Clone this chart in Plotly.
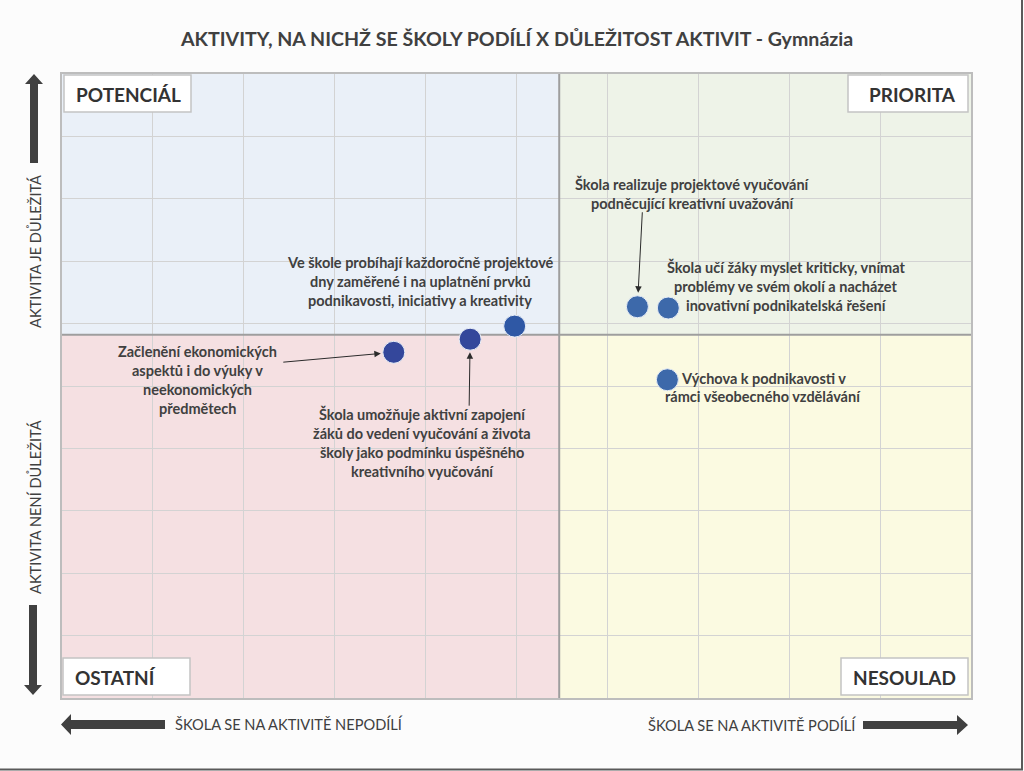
import plotly.graph_objects as go

# ---------------- data ----------------
labels = [
    "Začlenění ekonomických aspektů i do výuky v neekonomických předmětech",
    "Škola umožňuje aktivní zapojení žáků do vedení vyučování a života školy",
    "Ve škole probíhají každoročně projektové dny",
    "Škola realizuje projektové vyučování podněcující kreativní uvažování",
    "Škola učí žáky myslet kriticky",
    "Výchova k podnikavosti v rámci všeobecného vzdělávání",
]
x_vals = [3.65, 4.49, 4.98, 6.33, 6.67, 6.66]
y_vals = [5.54, 5.75, 5.96, 6.27, 6.25, 5.10]
point_colors = ["#34479B", "#34479B", "#2F58A5", "#3D69AA", "#3D69AA", "#3D69AA"]
x_mid = 5.47
y_mid = 5.82
x_range = [0, 10]
y_range = [0, 10]

title_text = "AKTIVITY, NA NICHŽ SE ŠKOLY PODÍLÍ X DŮLEŽITOST AKTIVIT - Gymnázia"
quadrant_names = ["POTENCIÁL", "PRIORITA", "OSTATNÍ", "NESOULAD"]
axis_texts = ["AKTIVITA JE DŮLEŽITÁ", "AKTIVITA NENÍ DŮLEŽITÁ",
              "ŠKOLA SE NA AKTIVITĚ NEPODÍLÍ", "ŠKOLA SE NA AKTIVITĚ PODÍLÍ"]

# ---------------- layout helpers ----------------
W, H = 1024, 771
L, R, T, B = 62, 971, 74, 698
def PX(px):
    return (px - L) / (R - L)
def PY(py):
    return (B - py) / (B - T)

FONT = "Lato"
TXT = "#404040"

fig = go.Figure()

fig.add_trace(go.Scatter(
    x=x_vals, y=y_vals, mode="markers",
    marker=dict(size=22, color=point_colors, line=dict(color="#E8EEF7", width=1)),
    text=labels, hoverinfo="text", showlegend=False,
))

shapes = []
# quadrant backgrounds
quad_fills = [
    (x_range[0], x_mid, y_mid, y_range[1], "#EAF0F8"),
    (x_mid, x_range[1], y_mid, y_range[1], "#EEF3E8"),
    (x_range[0], x_mid, y_range[0], y_mid, "#F5E0E2"),
    (x_mid, x_range[1], y_range[0], y_mid, "#FBFAE1"),
]
for x0, x1, y0, y1, c in quad_fills:
    shapes.append(dict(type="rect", xref="x", yref="y", x0=x0, x1=x1, y0=y0, y1=y1,
                       fillcolor=c, line=dict(width=0), layer="below"))
# divider lines
shapes.append(dict(type="line", xref="x", yref="y", x0=x_mid, x1=x_mid, y0=y_range[0], y1=y_range[1],
                   line=dict(color="#9E9E9E", width=2), layer="between"))
shapes.append(dict(type="line", xref="x", yref="y", x0=x_range[0], x1=x_range[1], y0=y_mid, y1=y_mid,
                   line=dict(color="#9E9E9E", width=2), layer="between"))

# quadrant label boxes
boxes = [(64, 191, 75, 112), (848, 968, 75, 112), (63, 190, 658, 695), (841, 968, 658, 695)]
for (x0, x1, y0, y1) in boxes:
    shapes.append(dict(type="rect", xref="paper", yref="paper",
                       x0=PX(x0), x1=PX(x1), y0=PY(y1), y1=PY(y0),
                       fillcolor="#FFFFFF", line=dict(color="#C4C4C4", width=1.5)))

# big arrows (outside plot)
AC = "#404040"
def poly(pts):
    return "M " + " L ".join(f"{PX(a):.5f},{PY(b):.5f}" for a, b in pts) + " Z"
arrow_paths = [
    [(30, 163), (30, 84), (25, 84), (34, 74), (43, 84), (38, 84), (38, 163)],
    [(29, 605), (29, 685), (24, 685), (33, 695), (42, 685), (37, 685), (37, 605)],
    [(165, 720), (71, 720), (71, 714), (61, 724.5), (71, 735), (71, 729), (165, 729)],
    [(863, 721), (957, 721), (957, 715), (968, 725), (957, 735), (957, 729), (863, 729)],
]
for pts in arrow_paths:
    shapes.append(dict(type="path", xref="paper", yref="paper", path=poly(pts),
                       fillcolor=AC, line=dict(width=0)))

# image frame (right / bottom edge)
shapes.append(dict(type="line", xref="paper", yref="paper", x0=PX(1022), x1=PX(1022), y0=PY(0), y1=PY(770),
                   line=dict(color="#5A5A5A", width=2)))
shapes.append(dict(type="line", xref="paper", yref="paper", x0=PX(0), x1=PX(1023), y0=PY(769.5), y1=PY(769.5),
                   line=dict(color="#5A5A5A", width=2)))

ann = []
# title
ann.append(dict(text=f"<b>{title_text}</b>", xref="paper", yref="paper", x=PX(516), y=PY(39),
                xanchor="center", yanchor="middle", showarrow=False,
                font=dict(family=FONT, size=19.6, color=TXT)))
# quadrant names
qpos = [(74, 94, "left"), (958, 94, "right"), (73, 677, "left"), (958, 677, "right")]
for name, (x, y, a) in zip(quadrant_names, qpos):
    ann.append(dict(text=f"<b>{name}</b>", xref="paper", yref="paper", x=PX(x), y=PY(y),
                    xanchor=a, yanchor="middle", showarrow=False,
                    font=dict(family=FONT, size=19, color="#333333")))
# axis texts
apos = [(35, 252, -90), (35, 507, -90), (289, 724, 0), (752, 725, 0)]
for t, (x, y, ang) in zip(axis_texts, apos):
    ann.append(dict(text=t, xref="paper", yref="paper", x=PX(x), y=PY(y),
                    xanchor="center", yanchor="middle", showarrow=False, textangle=ang,
                    font=dict(family=FONT, size=14.6, color=TXT)))

# point label texts
label_lines = [
    (["Začlenění ekonomických", "aspektů i do výuky v", "neekonomických", "předmětech"], 197, 351),
    (["Škola umožňuje aktivní zapojení", "žáků do vedení vyučování a života",
      "školy jako podmínku úspěšného", "kreativního vyučování"], 422, 414),
    (["Ve škole probíhají každoročně projektové", "dny zaměřené i na uplatnění prvků",
      "podnikavosti, iniciativy a kreativity"], 420, 262),
    (["Škola realizuje projektové vyučování", "podněcující kreativní uvažování"], 692, 184),
    (["Škola učí žáky myslet kriticky, vnímat", "problémy ve svém okolí a nacházet",
      "inovativní podnikatelská řešení"], 786, 267),
    (["Výchova k podnikavosti v", "rámci všeobecného vzdělávání"], 763, 378),
]
LS = 19
for lines, cx, y0 in label_lines:
    for i, ln in enumerate(lines):
        ann.append(dict(text=f"<b>{ln}</b>", xref="paper", yref="paper", x=PX(cx), y=PY(y0 + i * LS),
                        xanchor="center", yanchor="middle", showarrow=False,
                        font=dict(family=FONT, size=14.5, color=TXT)))

# leader arrows (point index, tail offset in px, standoff)
leaders = [(0, -112, 10, 13), (1, -1, 68, 13), (3, 5, -96, 14)]
for idx, axp, ayp, so in leaders:
    ann.append(dict(text="", x=x_vals[idx], y=y_vals[idx], xref="x", yref="y",
                    ax=axp, ay=ayp, showarrow=True, arrowhead=2, arrowsize=1.3,
                    arrowwidth=1, arrowcolor="#2B2B2B", standoff=so))

fig.update_layout(
    width=W, height=H,
    margin=dict(l=L, r=W - R, t=T, b=H - B, pad=0),
    paper_bgcolor="#FCFCFC", plot_bgcolor="#FFFFFF",
    shapes=shapes, annotations=ann,
    xaxis=dict(range=x_range, dtick=1, showgrid=True, gridcolor="#D3D3D3", gridwidth=1,
               zeroline=False, showticklabels=False, ticks="", showline=True, mirror=True,
               linecolor="#BDBDBD", linewidth=1.5, fixedrange=True),
    yaxis=dict(range=y_range, dtick=1, showgrid=True, gridcolor="#D3D3D3", gridwidth=1,
               zeroline=False, showticklabels=False, ticks="", showline=True, mirror=True,
               linecolor="#BDBDBD", linewidth=1.5, fixedrange=True),
)

fig.write_html("out.html", config={"displayModeBar": False},
               post_script="document.body.style.margin='0';document.body.style.overflow='hidden';")
